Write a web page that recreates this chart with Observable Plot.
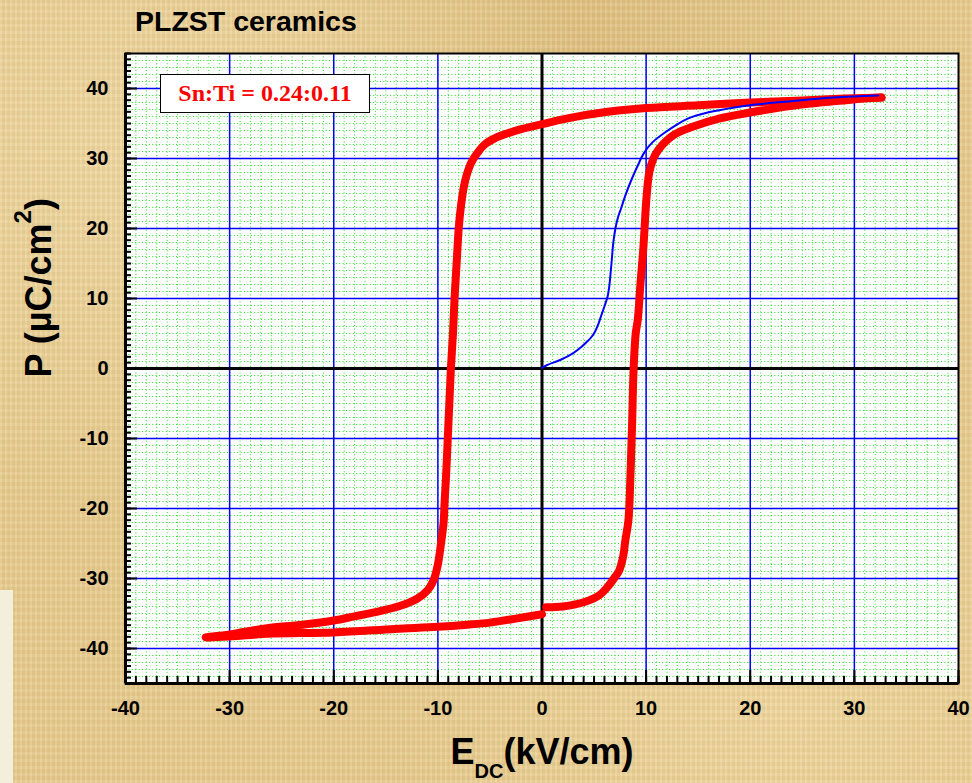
<!DOCTYPE html>
<html>
<head>
<meta charset="utf-8">
<script src="https://cdn.jsdelivr.net/npm/d3@7"></script>
<script src="https://cdn.jsdelivr.net/npm/@observablehq/plot@0.6"></script>
<style>
html, body { margin: 0; padding: 0; }
body {
  width: 972px; height: 783px; overflow: hidden; position: relative;
  background-color: #e6cb90;
  background-image:
    repeating-linear-gradient(90deg, rgba(255,245,215,0.10) 0px, rgba(255,245,215,0.10) 2px, rgba(150,110,40,0.06) 2px, rgba(150,110,40,0.06) 5px),
    repeating-linear-gradient(0deg, rgba(255,245,215,0.08) 0px, rgba(255,245,215,0.08) 3px, rgba(150,110,40,0.05) 3px, rgba(150,110,40,0.05) 7px),
    radial-gradient(ellipse at 15% 20%, rgba(255,240,200,0.35), rgba(255,240,200,0) 40%),
    radial-gradient(ellipse at 80% 90%, rgba(255,235,190,0.35), rgba(255,235,190,0) 35%),
    radial-gradient(ellipse at 60% 5%, rgba(200,160,90,0.25), rgba(200,160,90,0) 35%);
}
#chart { position: absolute; left: 0; top: 0; }
#title {
  position: absolute; left: 135px; top: 7px;
  font: bold 28.5px "Liberation Sans", Arial, sans-serif; line-height: 28px;
  color: #000; white-space: nowrap;
}
#legend {
  position: absolute; left: 160px; top: 74px; width: 208px; height: 37px;
  background: #fff; border: 1px solid #000; color: #ff0000;
  font: bold 24px "Liberation Serif", "Times New Roman", serif;
  display: flex; align-items: center; justify-content: center; white-space: nowrap;
}
#patch { position: absolute; left: 0; top: 590px; width: 13px; height: 193px; background: #f3efdb; }
</style>
</head>
<body>
<div id="patch"></div>
<div id="chart"></div>
<div id="title">PLZST ceramics</div>
<div id="legend">Sn:Ti = 0.24:0.11</div>
<script>
// ---- Data ----
// Red loop, branch 1: upper branch from +E max to -E max, then lower branch back to E = 0
const redDownE = [32.6, 30, 28, 25, 20, 15, 10, 5, 2, 0, -2, -3.5, -4.5, -5.5, -6.2, -6.8, -7.2, -7.5, -7.8, -8.0, -8.2, -8.4, -8.55, -8.75, -8.9, -9.05, -9.2, -9.35, -9.45, -9.7, -10.0, -10.4, -11, -12, -13.6, -16, -18, -20, -23, -26.4, -28.5, -30.5, -32.3, -30, -26.4, -20, -14.1, -10, -7.2, -5, -2.4, 0];
const redDownP = [38.7, 38.6, 38.5, 38.3, 38.0, 37.6, 37.2, 36.4, 35.6, 34.9, 34.2, 33.5, 32.9, 32.0, 30.8, 29.4, 27.8, 26, 23, 20, 15, 10, 5, 0, -5, -10, -15, -19, -22, -25, -28, -30.2, -31.7, -32.9, -33.9, -34.8, -35.4, -36.0, -36.6, -37.1, -37.6, -38.1, -38.4, -38.3, -37.9, -37.7, -37.2, -36.9, -36.6, -36.3, -35.7, -35.1];
// Red loop, branch 2: from E = 0 (lower) up to +E max
const redUpE = [0.4, 2, 4, 5.5, 6.3, 7.0, 7.4, 7.8, 8.0, 8.3, 8.5, 8.65, 8.8, 9.0, 9.2, 9.45, 9.7, 9.85, 10.0, 10.3, 10.7, 11.2, 12.7, 14.6, 17, 20.1, 24.9, 29.7, 32.6];
const redUpP = [-34.1, -34.0, -33.4, -32.4, -31.2, -29.8, -28.9, -26.8, -24.6, -21.7, -15, -8, 0, 5, 7, 12, 16.5, 20, 23.7, 28, 30, 31.3, 33.4, 34.6, 35.7, 36.6, 37.7, 38.4, 38.7];
// Blue virgin curve
const blueE = [0, 0.5, 1.8, 3.0, 3.8, 4.3, 4.75, 5.1, 5.4, 5.7, 6.0, 6.3, 6.45, 6.55, 6.7, 6.85, 7.05, 7.3, 7.6, 8.0, 8.6, 9.2, 9.8, 10.6, 11.7, 12.8, 14, 16, 18.5, 20.5, 23.3, 28, 32.3];
const blueP = [0.1, 0.5, 1.25, 2.2, 3.1, 3.8, 4.5, 5.3, 6.3, 7.6, 8.9, 10.3, 11.6, 13, 15.5, 18, 20, 21.6, 22.9, 24.7, 27, 29, 30.8, 32.3, 33.6, 34.7, 35.7, 36.6, 37.3, 37.7, 38.1, 38.7, 39.0];

// Axis ticks
const xTicks = [-40, -30, -20, -10, 0, 10, 20, 30, 40];
const yTicks = [-40, -30, -20, -10, 0, 10, 20, 30, 40];
const xMinor = d3.range(-40, 41, 1);
const yMinor = d3.range(-54, 55).map(k => k * 10 / 12).filter(v => v >= -45 && v <= 45);
const xGridMinor = d3.range(-40, 41, 1);
const yGridMinor = d3.range(-45, 46, 1);
const xGridMajor = [-30, -20, -10, 10, 20, 30];
const yGridMajor = [-40, -30, -20, -10, 10, 20, 30, 40];

// Tables built from the arrays
const red = [
  ...redDownE.map((e, i) => ({E: e, P: redDownP[i], branch: "down"})),
  ...redUpE.map((e, i) => ({E: e, P: redUpP[i], branch: "up"}))
];
const blue = blueE.map((e, i) => ({E: e, P: blueP[i]}));

const fmt = d => String(d);

const chart = Plot.plot({
  width: 972,
  height: 783,
  marginTop: 53,
  marginRight: 14,
  marginBottom: 100,
  marginLeft: 125,
  style: {background: "transparent", fontFamily: "'Liberation Sans', Arial, sans-serif", fontSize: "20px", fontWeight: "bold", color: "black", overflow: "visible"},
  x: {domain: [-40, 40]},
  y: {domain: [-45, 45]},
  marks: [
    Plot.frame({fill: "white"}),
    Plot.ruleX(xGridMinor, {stroke: "#22e022", strokeWidth: 1, strokeDasharray: "1 2.4"}),
    Plot.ruleY(yGridMinor, {stroke: "#22e022", strokeWidth: 1, strokeDasharray: "1 2.4"}),
    Plot.ruleX(xGridMajor, {stroke: "#0000ff", strokeWidth: 1.5}),
    Plot.ruleY(yGridMajor, {stroke: "#0000ff", strokeWidth: 1.5}),
    Plot.ruleX([0], {stroke: "black", strokeWidth: 3}),
    Plot.ruleY([0], {stroke: "black", strokeWidth: 3}),
    Plot.line(red, {x: "E", y: "P", z: "branch", stroke: "#ff0000", strokeWidth: 8, curve: "catmull-rom", strokeLinecap: "round", strokeLinejoin: "round"}),
    Plot.line(blue, {x: "E", y: "P", stroke: "#0000ff", strokeWidth: 2, curve: "catmull-rom"}),
    Plot.frame({stroke: "black", strokeWidth: 2}),
    Plot.ruleX([-40], {stroke: "black", strokeWidth: 3}),
    Plot.ruleY([-45], {stroke: "black", strokeWidth: 3}),
    // inward ticks
    Plot.axisX(xMinor, {anchor: "bottom", tickSize: -7, strokeWidth: 2, text: null, label: null}),
    Plot.axisX(xTicks, {anchor: "bottom", tickSize: -13, strokeWidth: 2, text: null, label: null}),
    Plot.axisY(yMinor, {anchor: "left", tickSize: -6, strokeWidth: 2, text: null, label: null}),
    Plot.axisY(yTicks, {anchor: "left", tickSize: -12, strokeWidth: 2, text: null, label: null}),
    // tick labels
    Plot.axisX(xTicks, {anchor: "bottom", tickSize: 0, tickPadding: 17, tickFormat: fmt, label: null, fontSize: 20, fontWeight: "bold", fill: "black"}),
    Plot.axisY(yTicks, {anchor: "left", tickSize: 0, tickPadding: 17, tickFormat: fmt, label: null, fontSize: 20, fontWeight: "bold", fill: "black"}),
    // axis titles (subscript/superscript added below)
    Plot.text(["E"], {frameAnchor: "bottom", text: d => d, dy: 80, lineAnchor: "bottom", fontSize: 36, fontWeight: "bold", fill: "black", className: "xlabel"}),
    Plot.text(["P (µC/cm"], {frameAnchor: "left", text: d => d, dx: -75, dy: 9, rotate: -90, lineAnchor: "bottom", fontSize: 36, fontWeight: "bold", fill: "black", className: "ylabel"})
  ]
});

document.getElementById("chart").appendChild(chart);

// Subscript "DC" in the x title
const xt = d3.select(chart).select("g.xlabel text");
xt.append("tspan").attr("dy", 14).attr("font-size", 20).text("DC");
xt.append("tspan").attr("dy", -14).text("(kV/cm)");
// Superscript "2" in the y title
const yt = d3.select(chart).select("g.ylabel text");
yt.append("tspan").attr("dy", -20).attr("font-size", 24).text("2");
yt.append("tspan").attr("dy", 20).text(")");
</script>
</body>
</html>
